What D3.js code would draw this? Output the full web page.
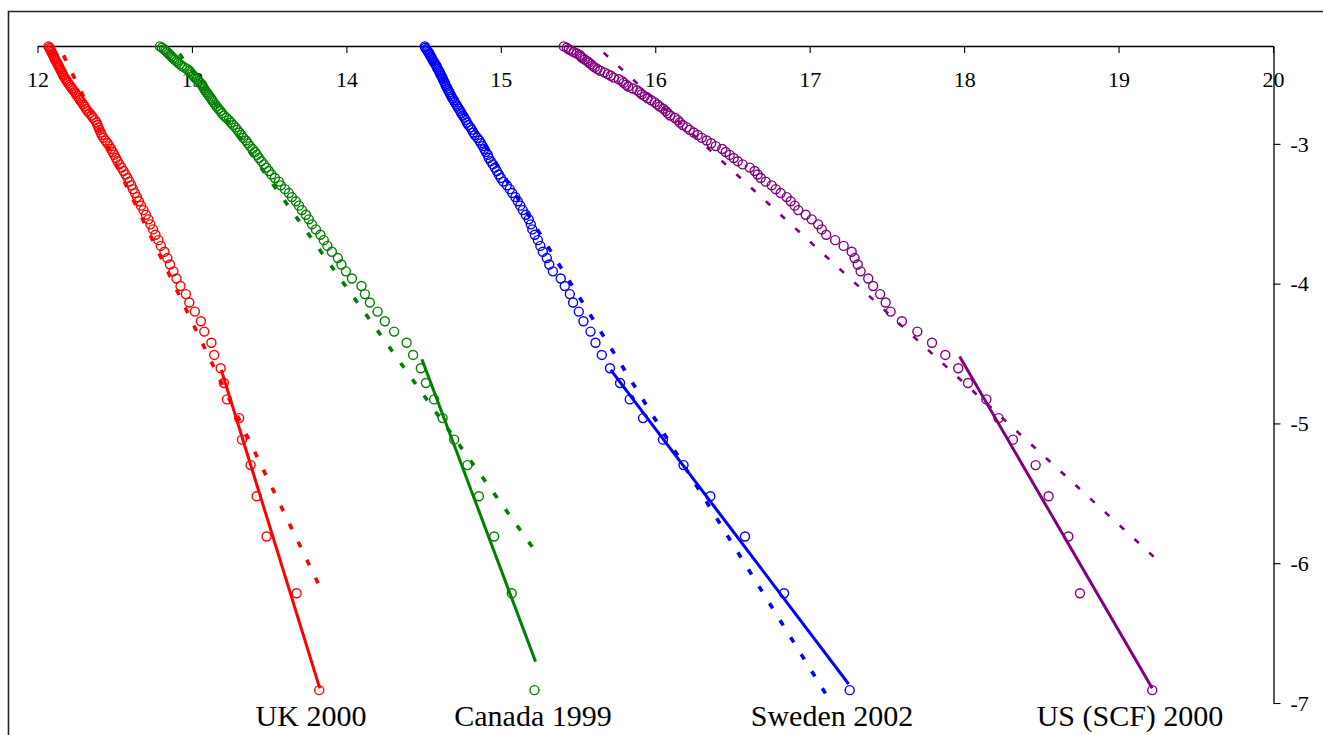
<!DOCTYPE html>
<html>
<head>
<meta charset="utf-8">
<script src="https://cdn.jsdelivr.net/npm/d3@7"></script>
<style>
  html, body { margin: 0; padding: 0; background: #fff; }
  svg { display: block; }
  text { font-family: "Liberation Serif", "Times New Roman", serif; fill: #000; }
</style>
</head>
<body>
<div id="chart"></div>
<script>
// ---------- DATA ----------
// y: log of upper-tail probability for ranks 1..100 (shared by all series)
const rankLogProb = [-6.908,-6.215,-5.809,-5.521,-5.298,-5.116,-4.962,-4.828,-4.711,-4.605,
-4.510,-4.423,-4.343,-4.269,-4.200,-4.135,-4.075,-4.017,-3.963,-3.912,
-3.863,-3.817,-3.772,-3.730,-3.689,-3.650,-3.612,-3.576,-3.540,-3.507,
-3.474,-3.442,-3.411,-3.381,-3.352,-3.324,-3.297,-3.270,-3.244,-3.219,
-3.194,-3.170,-3.147,-3.124,-3.101,-3.079,-3.058,-3.037,-3.016,-2.996,
-2.976,-2.957,-2.937,-2.919,-2.900,-2.882,-2.865,-2.847,-2.830,-2.813,
-2.797,-2.781,-2.765,-2.749,-2.733,-2.718,-2.703,-2.688,-2.674,-2.659,
-2.645,-2.631,-2.617,-2.604,-2.590,-2.577,-2.564,-2.551,-2.538,-2.526,
-2.513,-2.501,-2.489,-2.477,-2.465,-2.453,-2.442,-2.430,-2.419,-2.408,
-2.397,-2.386,-2.375,-2.364,-2.354,-2.343,-2.333,-2.323,-2.312,-2.303];

const ukX = [13.824,13.678,13.483,13.419,13.380,13.324,13.306,13.227,13.207,13.186,
13.144,13.126,13.080,13.058,13.019,12.983,12.961,12.926,12.900,12.880,
12.858,12.841,12.822,12.799,12.783,12.764,12.748,12.731,12.718,12.702,
12.686,12.670,12.657,12.644,12.631,12.618,12.608,12.595,12.583,12.570,
12.557,12.544,12.531,12.518,12.508,12.497,12.487,12.476,12.466,12.453,
12.440,12.427,12.417,12.409,12.401,12.395,12.388,12.382,12.372,12.359,
12.350,12.337,12.324,12.314,12.305,12.296,12.287,12.276,12.269,12.259,
12.250,12.243,12.232,12.223,12.214,12.206,12.197,12.191,12.183,12.175,
12.168,12.163,12.159,12.152,12.146,12.142,12.136,12.131,12.126,12.120,
12.113,12.110,12.107,12.100,12.096,12.091,12.087,12.081,12.078,12.071];

const canadaX = [15.218,15.071,14.957,14.858,14.784,14.698,14.623,14.568,14.515,14.482,
14.432,14.390,14.309,14.249,14.202,14.152,14.120,14.098,14.036,13.997,
13.968,13.945,13.906,13.877,13.854,13.832,13.803,13.777,13.757,13.738,
13.712,13.693,13.673,13.647,13.628,13.602,13.576,13.563,13.537,13.515,
13.498,13.482,13.466,13.450,13.434,13.421,13.408,13.392,13.375,13.362,
13.350,13.333,13.320,13.307,13.294,13.282,13.267,13.252,13.239,13.223,
13.207,13.194,13.184,13.172,13.160,13.151,13.140,13.131,13.123,13.113,
13.104,13.094,13.086,13.078,13.071,13.065,13.055,13.045,13.032,13.019,
13.010,13.000,12.990,12.984,12.968,12.951,12.935,12.922,12.909,12.900,
12.887,12.877,12.867,12.858,12.848,12.838,12.828,12.819,12.806,12.793];

const swedenX = [17.259,16.834,16.581,16.357,16.183,16.050,15.921,15.835,15.772,15.707,
15.654,15.613,15.581,15.535,15.505,15.468,15.447,15.414,15.388,15.337,
15.314,15.298,15.272,15.256,15.240,15.220,15.204,15.194,15.181,15.162,
15.142,15.126,15.110,15.094,15.074,15.058,15.039,15.016,15.000,14.987,
14.974,14.961,14.948,14.935,14.922,14.916,14.903,14.893,14.883,14.871,
14.861,14.848,14.832,14.822,14.812,14.803,14.790,14.780,14.773,14.764,
14.754,14.744,14.738,14.728,14.718,14.712,14.702,14.696,14.686,14.680,
14.673,14.667,14.660,14.654,14.647,14.641,14.638,14.631,14.625,14.621,
14.615,14.608,14.605,14.599,14.592,14.586,14.583,14.576,14.570,14.563,
14.557,14.553,14.547,14.540,14.537,14.531,14.524,14.518,14.511,14.508];

const usX = [19.218,18.750,18.675,18.547,18.463,18.316,18.223,18.144,18.025,17.962,
17.878,17.792,17.697,17.597,17.524,17.492,17.456,17.411,17.379,17.330,
17.311,17.291,17.272,17.220,17.165,17.107,17.078,17.055,17.013,16.974,
16.926,16.903,16.877,16.851,16.812,16.780,16.754,16.715,16.683,16.663,
16.644,16.612,16.566,16.534,16.508,16.482,16.456,16.434,16.392,16.362,
16.333,16.301,16.275,16.249,16.223,16.204,16.178,16.159,16.146,16.126,
16.097,16.081,16.068,16.052,16.029,16.013,15.997,15.974,15.951,15.932,
15.913,15.900,15.883,15.854,15.825,15.812,15.796,15.786,15.764,15.731,
15.712,15.693,15.670,15.644,15.625,15.608,15.595,15.583,15.570,15.560,
15.544,15.528,15.518,15.511,15.492,15.472,15.456,15.440,15.427,15.408];

// fitted lines: [[x0,y0],[x1,y1]]
const ukSolid = [[13.190,-4.617],[13.828,-6.895]];
const canadaSolid = [[14.489,-4.541],[15.225,-6.704]];
const swedenSolid = [[15.712,-4.617],[17.252,-6.864]];
const usSolid = [[17.971,-4.522],[19.218,-6.895]];

// dashed fits, listed from the low (tail) end up to the top
const ukDashed = [[13.817,-6.143],[12.141,-2.304]];
const canadaDashed = [[15.203,-5.882],[12.883,-2.300]];
const swedenDashed = [[17.102,-6.931],[14.498,-2.300]];
const usDashed = [[19.227,-5.953],[15.619,-2.300]];

const seriesNames = ["UK 2000", "Canada 1999", "Sweden 2002", "US (SCF) 2000"];
const seriesColors = ["#ff0000", "#008000", "#0000ff", "#800080"];

const xTicks = [12, 13, 14, 15, 16, 17, 18, 19, 20];
const yTicks = [-3, -4, -5, -6, -7];

// ---------- LAYOUT ----------
const W = 1323, H = 735;
const series = [
  { name: seriesNames[0], color: seriesColors[0], xs: ukX, solid: ukSolid, dashed: ukDashed, dashW: 3.6, labelX: 311 },
  { name: seriesNames[1], color: seriesColors[1], xs: canadaX, solid: canadaSolid, dashed: canadaDashed, dashW: 3.6, labelX: 533 },
  { name: seriesNames[2], color: seriesColors[2], xs: swedenX, solid: swedenSolid, dashed: swedenDashed, dashW: 3.6, labelX: 832 },
  { name: seriesNames[3], color: seriesColors[3], xs: usX, solid: usSolid, dashed: usDashed, dashW: 2.6, labelX: 1130 }
];

const x = d3.scaleLinear().domain([12, 20]).range([37.5, 1273]);
const y = d3.scaleLinear().domain([-7, -2.3]).range([703, 46]);

const svg = d3.select("#chart").append("svg")
  .attr("width", W).attr("height", H);

// outer frame (top + left)
svg.append("path")
  .attr("d", `M8.5,${H} V11.5 H${W}`)
  .attr("fill", "none").attr("stroke", "#222").attr("stroke-width", 1.6);

// x axis (top)
const gx = svg.append("g").attr("transform", "translate(0,46)")
  .call(d3.axisBottom(x).tickValues(xTicks).tickSize(7).tickSizeOuter(0).tickFormat(d => String(d)));
gx.select(".domain").attr("stroke", "#000").attr("stroke-width", 1.3);
gx.selectAll(".tick line").attr("stroke", "#000").attr("stroke-width", 1.1);
gx.selectAll(".tick text")
  .attr("y", 41).attr("dy", 0)
  .style("font-family", "'Liberation Serif', serif").style("font-size", "22px").attr("fill", "#000");

// y axis (right)
const gy = svg.append("g").attr("transform", "translate(1273.5,0)")
  .call(d3.axisRight(y).tickValues(yTicks).tickSize(7).tickSizeOuter(0).tickFormat(d => String(d)));
gy.select(".domain").attr("stroke", "#000").attr("stroke-width", 1.3);
gy.selectAll(".tick line").attr("stroke", "#000").attr("stroke-width", 1.1);
gy.selectAll(".tick text")
  .attr("x", 17).attr("dy", "0.33em")
  .style("font-family", "'Liberation Serif', serif").style("font-size", "22px").attr("fill", "#000");

const line = d3.line().x(d => x(d[0])).y(d => y(d[1]));

series.forEach(s => {
  const g = svg.append("g");
  g.selectAll("circle")
    .data(s.xs.map((v, i) => [v, rankLogProb[i]]))
    .join("circle")
    .attr("cx", d => x(d[0])).attr("cy", d => y(d[1]))
    .attr("r", 4.5)
    .attr("fill", "none").attr("stroke", s.color).attr("stroke-width", 1.4);

  g.append("path").datum(s.dashed).attr("d", line)
    .attr("fill", "none").attr("stroke", s.color)
    .attr("stroke-width", s.dashW).attr("stroke-dasharray", "6,14");

  g.append("path").datum(s.solid).attr("d", line)
    .attr("fill", "none").attr("stroke", s.color).attr("stroke-width", 3);

  svg.append("text")
    .attr("x", s.labelX).attr("y", 726)
    .attr("text-anchor", "middle")
    .style("font-size", "30px")
    .text(s.name);
});
</script>
</body>
</html>
